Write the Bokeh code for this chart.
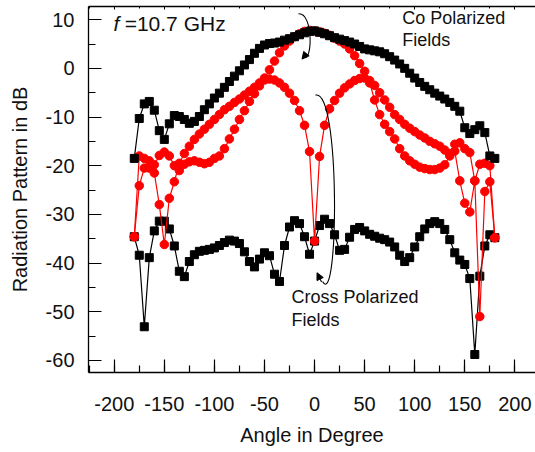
from bokeh.plotting import figure
from bokeh.models import Range1d, LinearAxis, FixedTicker, Label, Arrow, NormalHead
from bokeh.embed import file_html
from bokeh.resources import INLINE

angles = list(range(-180, 181, 5))

co_black = [-18.5, -10.3, -7.3, -6.8, -8.6, -12.8, -14.6, -11.4, -9.7, -9.9,
            -10.5, -11.3, -10.9, -9.9, -8.5, -7.3, -6.1, -5.1, -3.9, -2.7,
            -1.6, -0.5, 0.7, 1.8, 3.1, 4.1, 4.8, 5.1, 5.2, 5.4,
            5.8, 6.1, 6.5, 6.9, 7.3, 7.6, 7.7,
            7.4, 7.1, 6.7, 6.3, 6.0, 5.7, 5.4, 5.0, 4.5, 4.0,
            3.8, 3.6, 3.4, 3.0, 2.4, 1.7, 0.9, 0.0, -1.0, -2.0,
            -2.9, -3.7, -4.4, -5.1, -5.7, -6.3, -7.0, -7.8, -8.8, -12.2,
            -13.4, -12.6, -11.8, -13.2, -18.0, -18.5]

cross_black = [-34.6, -38.4, -53.1, -38.9, -33.4, -31.4, -31.4, -33.0, -36.5, -41.7,
               -42.8, -39.7, -38.3, -37.6, -37.4, -37.2, -36.9, -36.4, -35.8, -35.3,
               -35.5, -36.0, -37.7, -39.7, -40.8, -39.2, -37.9, -38.5, -42.3, -43.8,
               -36.4, -32.6, -31.3, -31.9, -34.6, -38.2, -35.5,
               -32.3, -31.0, -31.9, -34.2, -37.4, -37.2, -34.7, -33.1, -32.7, -33.4,
               -34.1, -34.5, -34.9, -35.2, -35.7, -36.7, -38.4, -39.7, -38.9, -36.7,
               -34.6, -33.0, -31.9, -31.5, -31.9, -33.1, -35.2, -37.9, -39.4, -40.3,
               -43.2, -58.8, -42.7, -36.5, -34.2, -34.8]

co_red = [-34.6, -18.0, -18.5, -19.0, -19.8, -17.9, -17.2, -18.0, -20.0, -21.0,
          -19.7, -19.2, -19.0, -19.3, -19.6, -19.3, -18.5, -18.0, -16.5, -14.5,
          -12.5, -10.5, -8.7, -6.8, -5.2, -3.6, -2.0, -0.3, 1.5, 3.2,
          4.6, 5.6, 6.5, 7.1, 7.6, 7.8, 7.7,
          7.5, 7.2, 6.8, 6.2, 5.6, 5.0, 4.0, 2.6, 1.0, -0.6,
          -3.0, -6.5, -9.5, -11.5, -13.0, -14.5, -16.5, -18.0, -19.0, -19.7,
          -20.3, -20.6, -20.8, -20.8, -20.5, -19.8, -18.0, -17.0, -23.1, -27.7,
          -29.5, -23.1, -51.0, -25.3, -23.3, -34.8]

twin_red = [-34.6, -24.1, -20.5, -20.5, -21.5, -28.0, -36.2, -26.7, -23.3, -19.5,
            -17.5, -16.0, -14.6, -13.5, -12.5, -11.5, -10.5, -9.5, -8.5, -7.8,
            -7.0, -6.3, -5.5, -4.7, -3.9, -3.0, -2.4, -2.2, -2.4, -3.0,
            -3.9, -5.1, -6.6, -8.7, -11.7, -17.1, -35.5,
            -18.1, -11.7, -8.3, -6.6, -5.1, -4.0, -3.2, -2.5, -2.1, -2.0,
            -2.5, -3.5, -5.0, -6.5, -8.0, -9.5, -10.5, -11.5, -12.3, -13.0,
            -13.7, -14.3, -15.0, -15.5, -16.0, -16.8, -17.5, -15.6, -15.3, -16.5,
            -17.3, -23.1, -19.7, -19.5, -20.0, -34.8]

x_ticks = [-200, -150, -100, -50, 0, 50, 100, 150, 200]
x_minor = list(range(-225, 226, 25))
y_ticks = [-60, -50, -40, -30, -20, -10, 0, 10]
y_minor = list(range(-60, 11, 5))

FONT = "Liberation Sans"
RED = "#ff0000"
TXT = "#111111"

p = figure(width=535, height=448, output_backend="svg", toolbar_location=None,
           x_range=Range1d(-225.7, 220.6), y_range=Range1d(-62.5, 12.71),
           min_border_left=88, min_border_right=0, min_border_top=6,
           min_border_bottom=73)
p.grid.visible = False
p.outline_line_color = None

# data
p.line(angles, cross_black, line_color="black", line_width=1.2)
p.scatter(angles, cross_black, marker="square", size=8, fill_color="black", line_color="black")
p.line(angles, twin_red, line_color=RED, line_width=1.2)
p.scatter(angles, twin_red, marker="circle", size=8.5, fill_color=RED, line_color=RED)
p.line(angles, co_red, line_color=RED, line_width=1.2)
p.scatter(angles, co_red, marker="circle", size=8.5, fill_color=RED, line_color=RED)
p.line(angles, co_black, line_color="black", line_width=1.2)
p.scatter(angles, co_black, marker="square", size=8, fill_color="black", line_color="black")

# axes
xa = p.xaxis[0]
ya = p.yaxis[0]
xa.ticker = FixedTicker(ticks=x_ticks, minor_ticks=x_minor)
ya.ticker = FixedTicker(ticks=y_ticks, minor_ticks=y_minor)
xa.major_label_overrides = {t: str(t) for t in x_ticks}
ya.major_label_overrides = {t: str(t) for t in y_ticks}
for ax in (xa, ya):
    ax.major_tick_in = 13
    ax.major_tick_out = 0
    ax.minor_tick_in = 7
    ax.minor_tick_out = 0
    ax.axis_line_width = 1.3
    ax.major_tick_line_width = 1.2
    ax.minor_tick_line_width = 1.2
    ax.major_label_text_font = FONT
    ax.major_label_text_font_size = "20px"
    ax.major_label_text_color = TXT
    ax.axis_label_text_font = FONT
    ax.axis_label_text_font_size = "20px"
    ax.axis_label_text_font_style = "normal"
    ax.axis_label_text_color = TXT
xa.axis_label = "Angle in Degree"
ya.axis_label = "Radiation Pattern in dB"
xa.major_label_standoff = 24
xa.axis_label_standoff = 10
ya.major_label_standoff = 14
ya.axis_label_standoff = 12

top = LinearAxis(ticker=FixedTicker(ticks=x_ticks, minor_ticks=x_minor),
                 major_label_text_font_size="0px", major_tick_in=3, major_tick_out=0,
                 minor_tick_in=2, minor_tick_out=0, major_label_standoff=0,
                 axis_line_width=1.3)
p.add_layout(top, "above")

# annotations
p.add_layout(Label(x=-200.7, y=6.8, text="f", text_font=FONT, text_font_size="21px",
                   text_font_style="italic", text_color=TXT))
p.add_layout(Label(x=-189.6, y=6.8, text="=10.7 GHz", text_font=FONT, text_font_size="21px",
                   text_color=TXT))
p.add_layout(Label(x=87.6, y=8.2, text="Co Polarized", text_font=FONT, text_font_size="18px",
                   text_color=TXT))
p.add_layout(Label(x=87.6, y=3.7, text="Fields", text_font=FONT, text_font_size="18px",
                   text_color=TXT))
p.add_layout(Label(x=-23.0, y=-49.1, text="Cross Polarized", text_font=FONT, text_font_size="18px",
                   text_color=TXT))
p.add_layout(Label(x=-23.0, y=-53.7, text="Fields", text_font=FONT, text_font_size="18px",
                   text_color=TXT))

p.bezier(x0=[-16.0], y0=[11.2], x1=[-11.0], y1=[2.3], cx0=[-1.0], cy0=[11.5],
         cx1=[-2.0], cy1=[1.0], line_color="black", line_width=1.1)
p.add_layout(Arrow(end=NormalHead(size=7, fill_color="black", line_color="black"),
                   x_start=-9.0, y_start=2.8, x_end=-12.5, y_end=1.9, line_color="black",
                   line_width=1.1))
p.bezier(x0=[1.0], y0=[-5.5], x1=[8.0], y1=[-43.8], cx0=[26.0], cy0=[-4.0],
         cx1=[24.0], cy1=[-50.0], line_color="black", line_width=1.1)
p.add_layout(Arrow(end=NormalHead(size=7, fill_color="black", line_color="black"),
                   x_start=7.0, y_start=-43.9, x_end=2.5, y_end=-42.0, line_color="black",
                   line_width=1.1))

open("out.html", "w").write(file_html(p, INLINE))
